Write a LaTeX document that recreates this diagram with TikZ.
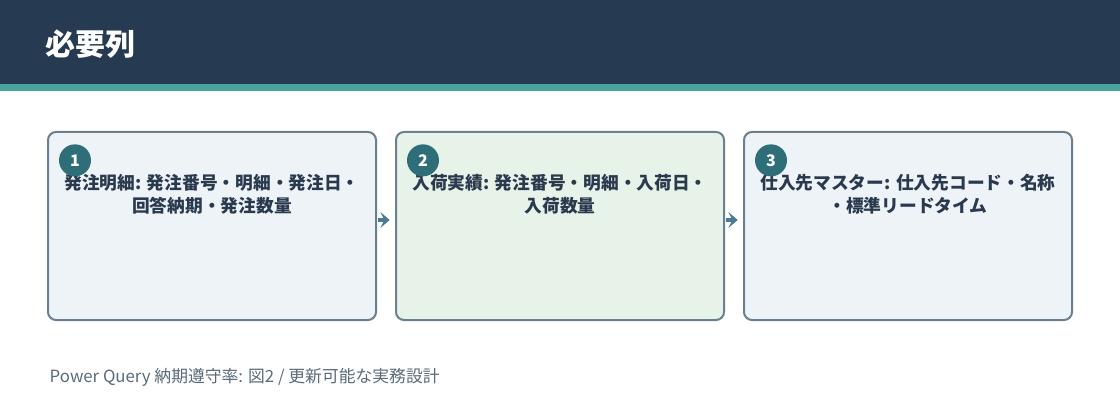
\documentclass[tikz,border=0pt]{standalone}
\usepackage{fontspec}
\setmainfont{Noto Sans CJK JP}
\usetikzlibrary{arrows.meta,positioning}
\definecolor{hdr}{HTML}{263A52}
\definecolor{stripe}{HTML}{48A39A}
\definecolor{edge}{HTML}{6B7F90}
\definecolor{paleblue}{HTML}{EEF3F8}
\definecolor{palegreen}{HTML}{E7F2E8}
\definecolor{badge}{HTML}{2E6E78}
\definecolor{ink}{HTML}{2A3A4E}
\definecolor{foot}{HTML}{5A6A7A}
\definecolor{arr}{HTML}{4A7A94}

\begin{document}
\begin{tikzpicture}[x=0.75pt,y=-0.75pt,
    card/.style={draw=edge,line width=1.5pt,rounded corners=6pt,minimum width=246pt,minimum height=141pt,inner sep=0pt},
    num/.style={circle,fill=badge,text=white,font=\bfseries\fontsize{12}{12}\selectfont,minimum size=24pt,inner sep=0pt},
    lbl/.style={anchor=north,align=center,text=ink,inner sep=0pt,font=\bfseries\fontsize{13.3}{17.25}\selectfont},
    flow/.style={draw=arr,line width=3.5pt,-{Stealth[length=7pt,width=12pt,inset=3pt]},shorten <=1pt,shorten >=4pt}]
  \useasboundingbox (0,0) rectangle (1120,420);
  % header
  \fill[hdr] (0,0) rectangle (1120,84);
  \fill[stripe] (0,84) rectangle (1120,91);
  \node[anchor=west,text=white,font=\bfseries\fontsize{22.5}{22.5}\selectfont] (title) at (41,44) {必要列};
  % cards
  \node[card,fill=paleblue] (c1) at (212,226) {};
  \node[card,fill=palegreen] (c2) at (560,226) {};
  \node[card,fill=paleblue] (c3) at (908,226) {};
  \node[lbl] (t1) at ([yshift=-32pt]c1.north) {発注明細: 発注番号・明細・発注日・\\回答納期・発注数量};
  \node[lbl] (t2) at ([yshift=-32pt]c2.north) {入荷実績: 発注番号・明細・入荷日・\\入荷数量};
  \node[lbl] (t3) at ([yshift=-32pt]c3.north) {仕入先マスター: 仕入先コード・名称\\・標準リードタイム};
  \node[num] (n1) at ([xshift=21pt,yshift=-22pt]c1.north west) {1};
  \node[num] (n2) at ([xshift=21pt,yshift=-22pt]c2.north west) {2};
  \node[num] (n3) at ([xshift=21pt,yshift=-22pt]c3.north west) {3};
  % arrows
  \draw[flow] ([yshift=4.5pt]c1.east) -- ([yshift=4.5pt]c2.west);
  \draw[flow] ([yshift=4.5pt]c2.east) -- ([yshift=4.5pt]c3.west);
  % footer
  \node[anchor=west,text=foot,font=\fontsize{12.6}{12.6}\selectfont] (note) at (45,377) {Power Query 納期遵守率: 図2 / 更新可能な実務設計};
\end{tikzpicture}
\end{document}
